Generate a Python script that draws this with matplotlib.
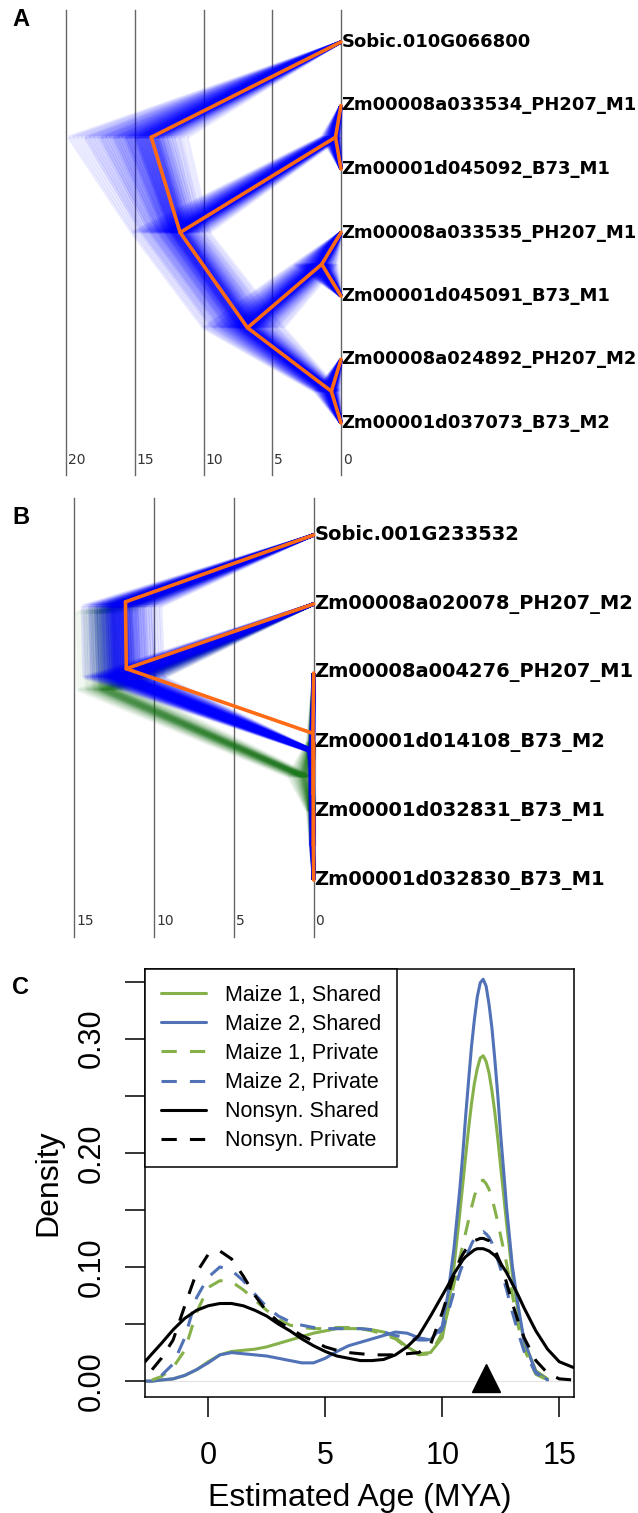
import numpy as np
import matplotlib.pyplot as plt
from matplotlib.collections import LineCollection

W, H = 638.0, 1513.0

# ---------------- panel A: tree (DensiTree style) ----------------
a_tips = ['Sobic.010G066800', 'Zm00008a033534_PH207_M1', 'Zm00001d045092_B73_M1',
          'Zm00008a033535_PH207_M1', 'Zm00001d045091_B73_M1',
          'Zm00008a024892_PH207_M2', 'Zm00001d037073_B73_M2']
a_edges = [('r', 0), ('r', 'n1'), ('n1', 'n2'), ('n2', 1), ('n2', 2), ('n1', 'n3'),
           ('n3', 'n4'), ('n4', 3), ('n4', 4), ('n3', 'n5'), ('n5', 5), ('n5', 6)]
a_age = {'r': 13.8, 'n1': 11.7, 'n2': 0.4, 'n3': 6.8, 'n4': 1.4, 'n5': 0.7}
# spread of node ages over the posterior sample of trees
a_spread = {'r': (11.2, 19.8), 'n1': (9.6, 15.2), 'n2': (0.0, 1.4),
            'n3': (4.2, 10.0), 'n4': (0.3, 3.4), 'n5': (0.1, 1.9)}
a_grid = [20, 15, 10, 5, 0]

# ---------------- panel B ----------------
b_tips = ['Sobic.001G233532', 'Zm00008a020078_PH207_M2', 'Zm00008a004276_PH207_M1',
          'Zm00001d014108_B73_M2', 'Zm00001d032831_B73_M1', 'Zm00001d032830_B73_M1']
b_edges = [('r', 0), ('r', 'n1'), ('n1', 1), ('n1', 'n2'), ('n2', 2), ('n2', 'n3'),
           ('n3', 3), ('n3', 'n4'), ('n4', 4), ('n4', 5)]
b_age = {'r': 11.8, 'n1': 11.75, 'n2': 0.05, 'n3': 0.03, 'n4': 0.02}
# most frequent topology in the posterior (blue)
b_blue_edges = [('r', 0), ('r', 'n1'), ('n1', 1), ('n1', 'n2'), ('n2', 3), ('n2', 'n3'),
                ('n3', 2), ('n3', 'n4'), ('n4', 4), ('n4', 5)]
b_blue_age = {'r': 12.3, 'n1': 12.1, 'n2': 0.05, 'n3': 0.03, 'n4': 0.02}
b_blue_spread = {'r': (9.6, 14.5), 'n1': (9.4, 14.4), 'n2': (0.0, 0.4),
                 'n3': (0.0, 0.3), 'n4': (0.0, 0.2)}
# second topology (green)
b_green_edges = [('r', 0), ('r', 'n1'), ('n1', 1), ('n1', 'n2'), ('n2', 'na'), ('n2', 'nb'),
                 ('na', 2), ('na', 4), ('nb', 3), ('nb', 5)]
b_green_age = {'r': 13.3, 'n1': 13.0, 'n2': 0.5, 'na': 0.1, 'nb': 0.1}
b_green_spread = {'r': (11.5, 14.9), 'n1': (11.0, 14.8), 'n2': (0.0, 1.6),
                  'na': (0.0, 0.4), 'nb': (0.0, 0.4)}
b_grid = [15, 10, 5, 0]

# ---------------- panel C: densities ----------------
age_x = [-2.7, -2.4, -2, -1.5, -1, -0.5, 0, 0.5, 1, 1.5, 2, 2.5, 3, 3.5, 4, 4.5, 5, 5.5,
         6, 6.5, 7, 7.5, 8, 8.5, 9, 9.5, 10, 10.25, 10.5, 10.75, 10.875, 11, 11.125,
         11.25, 11.375, 11.5, 11.625, 11.75, 11.875, 12, 12.125, 12.25, 12.375, 12.5,
         12.625, 12.75, 13, 13.25, 13.5, 14, 14.5, 15, 15.6]
nan = np.nan
m1_shared = [0.000, 0.000, 0.001, 0.002, 0.005, 0.010, 0.017, 0.023, 0.026, 0.027, 0.028,
             0.030, 0.033, 0.036, 0.039, 0.042, 0.044, 0.046, 0.046, 0.046, 0.045, 0.043,
             0.038, 0.030, 0.024, 0.025, 0.038, 0.064, 0.100, 0.147, 0.172, 0.197, 0.221,
             0.243, 0.261, 0.274, 0.283, 0.285, 0.280, 0.270, 0.254, 0.235, 0.212, 0.187,
             0.163, 0.138, 0.093, 0.060, 0.035, 0.009, 0.002, nan, nan]
m2_shared = [0.000, 0.000, 0.001, 0.002, 0.005, 0.010, 0.016, 0.023, 0.025, 0.024, 0.023,
             0.022, 0.020, 0.018, 0.016, 0.016, 0.020, 0.026, 0.031, 0.034, 0.037, 0.040,
             0.043, 0.042, 0.038, 0.036, 0.048, 0.077, 0.116, 0.168, 0.198, 0.232, 0.263,
             0.293, 0.317, 0.337, 0.349, 0.352, 0.346, 0.330, 0.309, 0.281, 0.250, 0.215,
             0.184, 0.152, 0.100, 0.065, 0.035, 0.008, 0.001, nan, nan]
m1_private = [nan, 0.001, 0.004, 0.012, 0.027, 0.060, 0.082, 0.088, 0.087, 0.080, 0.071,
              0.062, 0.054, 0.049, 0.047, 0.046, 0.046, 0.047, 0.047, 0.046, 0.044, 0.041,
              0.037, 0.029, 0.023, 0.024, 0.042, 0.062, 0.085, 0.108, 0.119, 0.130, 0.141,
              0.152, 0.162, 0.170, 0.175, 0.176, 0.173, 0.168, 0.160, 0.150, 0.139, 0.127,
              0.115, 0.103, 0.075, 0.048, 0.028, 0.006, 0.001, nan, nan]
m2_private = [nan, nan, 0.005, 0.015, 0.038, 0.073, 0.091, 0.100, 0.097, 0.088, 0.076,
              0.065, 0.057, 0.052, 0.049, 0.047, 0.046, 0.046, 0.046, 0.046, 0.045, 0.043,
              0.040, 0.038, 0.036, 0.036, 0.045, 0.060, 0.078, 0.095, 0.102, 0.108, 0.114,
              0.120, 0.125, 0.128, 0.130, 0.131, 0.129, 0.126, 0.121, 0.114, 0.106, 0.098,
              0.089, 0.080, 0.060, 0.042, 0.026, 0.007, 0.001, nan, nan]
ns_shared = [0.017, 0.024, 0.033, 0.045, 0.055, 0.062, 0.066, 0.068, 0.068, 0.066, 0.062,
             0.057, 0.050, 0.044, 0.037, 0.031, 0.026, 0.022, 0.020, 0.018, 0.018, 0.019,
             0.023, 0.030, 0.040, 0.057, 0.075, 0.084, 0.094, 0.102, 0.106, 0.109, 0.111,
             0.113, 0.115, 0.116, 0.116, 0.116, 0.115, 0.114, 0.112, 0.110, 0.107, 0.103,
             0.099, 0.095, 0.085, 0.075, 0.064, 0.044, 0.028, 0.017, 0.012]
ns_private = [nan, 0.010, 0.020, 0.036, 0.066, 0.095, 0.111, 0.114, 0.107, 0.092, 0.075,
              0.061, 0.052, 0.046, 0.040, 0.035, 0.030, 0.027, 0.025, 0.024, 0.023, 0.023,
              0.023, 0.024, 0.025, 0.032, 0.060, 0.076, 0.093, 0.106, 0.111, 0.115, 0.118,
              0.121, 0.123, 0.124, 0.125, 0.125, 0.124, 0.123, 0.119, 0.115, 0.109, 0.103,
              0.095, 0.086, 0.068, 0.052, 0.038, 0.018, 0.007, 0.002, 0.001]
wgd_age = 11.87

green_c = '#86b14a'
blue_c = '#5172b6'
orange = '#ff6a14'


def node_y(edges, node):
    if isinstance(node, int):
        return float(node)
    kids = [c for p, c in edges if p == node]
    return np.mean([node_y(edges, k) for k in kids])


def tree_segments(edges, ages):
    segs = []
    for p, c in edges:
        ac = 0.0 if isinstance(c, int) else ages[c]
        segs.append([(ages[p], node_y(edges, p)), (ac, node_y(edges, c))])
    return segs


def draw_cloud(ax, edges, mid, spread, color, alpha, lw=2.5, n=30,
               levels=(1.0, 0.8, 0.62, 0.46, 0.32, 0.2)):
    # nested bands: many trees close to the mid ages, fewer in the tails
    segs = []
    for f in levels:
        for t in np.linspace(0, 1, n):
            ages = {}
            for k, (lo, hi) in spread.items():
                a = mid[k] - f * (mid[k] - lo)
                b = mid[k] + f * (hi - mid[k])
                ages[k] = a + t * (b - a)
            segs += tree_segments(edges, ages)
    ax.add_collection(LineCollection(segs, colors=color, alpha=alpha,
                                     linewidths=lw, zorder=2))


def tree_axes(top, bottom, x0, pxu, y0, dy):
    ax = fig.add_axes([0, 1 - bottom / H, 1, (bottom - top) / H])
    ax.set_xlim(x0 / pxu, (x0 - W) / pxu)
    ax.set_ylim((bottom - y0) / dy, (top - y0) / dy)
    ax.axis('off')
    return ax


fig = plt.figure(figsize=(W / 100, H / 100), dpi=100)

# ---- A ----
axa = tree_axes(0, 480, 341, 13.75, 42, 63.5)
for g in a_grid:
    axa.plot([g, g], [-0.504, 6.819], color='#666666', lw=1.0, zorder=1)
    axa.text(g - 0.12, 6.583, str(g), fontsize=10, color='#333333',
             ha='left', va='center', family='DejaVu Sans')
draw_cloud(axa, a_edges, a_age, a_spread, '#0000ff', 0.08)
axa.add_collection(LineCollection(tree_segments(a_edges, a_age), colors=orange,
                                  linewidths=2.6, zorder=3, capstyle='round'))
for i, name in enumerate(a_tips):
    axa.text(-0.05, i, name, fontsize=13, fontweight='bold', family='DejaVu Sans',
             ha='left', va='center', zorder=4)
fig.text(12 / W, 1 - 20 / H, 'A', fontsize=17, fontweight='bold',
         family='Liberation Sans', va='center')

# ---- B ----
axb = tree_axes(480, 945, 313.7, 15.95, 535, 69)
for g in b_grid:
    axb.plot([g, g], [-0.536, 5.826], color='#666666', lw=1.0, zorder=1)
    axb.text(g - 0.12, 5.594, str(g), fontsize=10, color='#333333',
             ha='left', va='center', family='DejaVu Sans')
draw_cloud(axb, b_green_edges, b_green_age, b_green_spread, '#1b7a1b', 0.035,
           levels=(1.0, 0.7, 0.45, 0.25))
draw_cloud(axb, b_blue_edges, b_blue_age, b_blue_spread, '#0000ff', 0.09)
axb.add_collection(LineCollection(tree_segments(b_edges, b_age), colors=orange,
                                  linewidths=2.6, zorder=3, capstyle='round'))
for i, name in enumerate(b_tips):
    axb.text(-0.05, i, name, fontsize=14, fontweight='bold', family='DejaVu Sans',
             ha='left', va='center', zorder=4)
fig.text(12 / W, 1 - 518 / H, 'B', fontsize=17, fontweight='bold',
         family='Liberation Sans', va='center')

# ---- C ----
axc = fig.add_axes([145 / W, 1 - 1397 / H, (574 - 145) / W, (1397 - 969) / H])
axc.axhline(0, color='#e4e4e4', lw=0.8, zorder=0)
series = [(m1_shared, green_c, '-', 'Maize 1, Shared'),
          (m2_shared, blue_c, '-', 'Maize 2, Shared'),
          (m1_private, green_c, '--', 'Maize 1, Private'),
          (m2_private, blue_c, '--', 'Maize 2, Private'),
          (ns_shared, 'black', '-', 'Nonsyn. Shared'),
          (ns_private, 'black', '--', 'Nonsyn. Private')]
for vals, col, ls, lab in series:
    ln, = axc.plot(age_x, vals, color=col, ls=ls, lw=2.2, label=lab,
                   solid_capstyle='round', solid_joinstyle='round')
    if ls == '--':
        ln.set_dashes((5, 4.3))
axc.plot([wgd_age], [0.003], marker='^', ms=20, color='black', ls='none')
axc.set_xlim(-2.7, 15.63)
axc.set_ylim(-0.0139, 0.361)
yt = [0, 0.05, 0.10, 0.15, 0.20, 0.25, 0.30, 0.35]
axc.set_yticks(yt)
axc.set_yticklabels(['0.00', '', '0.10', '', '0.20', '', '0.30', ''],
                    rotation=90, va='center', family='Liberation Sans', fontsize=22)
axc.set_xticks([0, 5, 10, 15])
axc.set_xticklabels(['0', '5', '10', '15'], family='Liberation Sans', fontsize=22)
axc.tick_params(axis='x', length=14.4, width=1.1, pad=17)
axc.tick_params(axis='y', length=14.4, width=1.1, pad=13)
for s in axc.spines.values():
    s.set_linewidth(1.1)
leg = axc.legend(loc='upper left', bbox_to_anchor=(0, 1), borderaxespad=0,
                 prop={'family': 'Liberation Sans', 'size': 15.5}, fancybox=False,
                 edgecolor='black', framealpha=1, handlelength=2.1,
                 handletextpad=0.9, labelspacing=0.38, borderpad=0.72)
leg.get_frame().set_linewidth(1.1)
fig.text(48 / W, 1 - 1183 / H, 'Density', rotation=90, fontsize=23,
         family='Liberation Sans', ha='center', va='center')
fig.text(359.5 / W, 1 - 1498 / H, 'Estimated Age (MYA)', fontsize=23,
         family='Liberation Sans', ha='center', va='center')
fig.text(12 / W, 1 - 988 / H, 'C', fontsize=17, fontweight='bold',
         family='Liberation Sans', va='center')

fig.savefig('out.png', dpi=100)
